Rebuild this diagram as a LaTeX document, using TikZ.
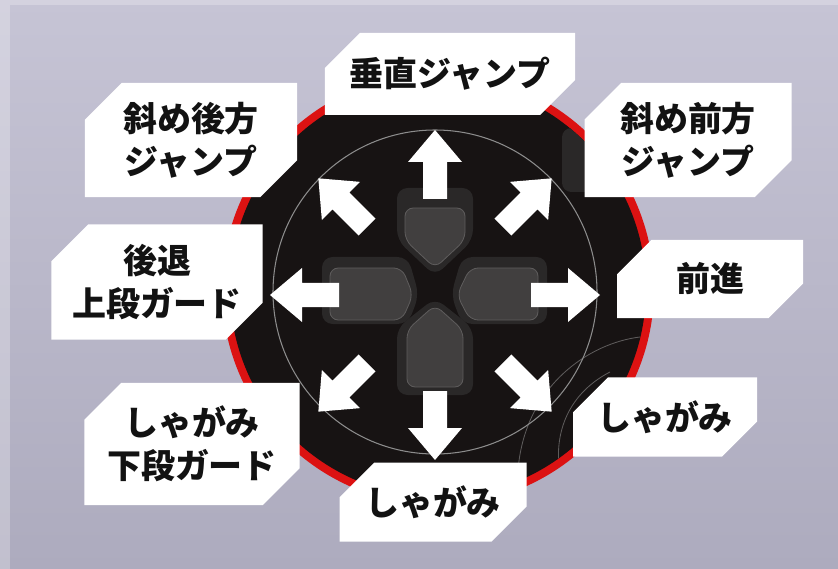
\documentclass[tikz,border=0pt]{standalone}
\usepackage{fontspec}
\newfontfamily\jpfont{Noto Sans CJK JP Black}
\usetikzlibrary{shapes.misc}

\definecolor{bgtop}{HTML}{C6C4D5}
\definecolor{bgmid}{HTML}{E6E6EC}
\definecolor{bgbot}{HTML}{ADABBE}
\definecolor{rimred}{HTML}{DC1212}
\definecolor{padblack}{HTML}{171313}
\definecolor{padouter}{HTML}{2A2828}
\definecolor{padinner}{HTML}{413F3F}
\definecolor{padedge}{HTML}{5E5C5C}

\tikzset{
  label box/.style={chamfered rectangle, chamfered rectangle corners={north west,south east},
    chamfered rectangle xsep=0.55cm, chamfered rectangle ysep=0.55cm,
    fill=white, inner sep=0pt, align=center, text=black!93,
    font=\jpfont\fontsize{29}{37}\selectfont},
  move arrow/.pic={
    \fill[white] (96,-12) -- (133,-12) -- (133,-27) -- (165,0) -- (133,27) -- (133,12) -- (96,12) -- cycle;
  }
}

\begin{document}
\begin{tikzpicture}[x=0.03cm, y=-0.03cm]
		%%%%% START %%%%%
		\useasboundingbox (0,0) rectangle (838,569);
		
		% backdrop
		\shade[top color=bgtop, middle color=bgmid, bottom color=bgbot] (0,0) rectangle (838,569);
		\fill[white, opacity=0.25] (0,0) rectangle (838,5);
		\fill[white, opacity=0.25] (0,5) rectangle (10,569);
		
		% pad body with red rim
		\fill[rimred] (438,289) circle (216);
		\fill[padblack] (438,289) circle (208);
		
		\begin{scope}
			\clip (438,289) circle (208);
			\fill[padouter, rounded corners=8] (562,128) rectangle (600,192);
			\draw[padedge, line width=0.7pt] (640,337) .. controls (590,343) and (525,385) .. (518,470);
			\draw[padedge, line width=0.7pt] (610,372) .. controls (575,390) and (552,425) .. (560,475);
		\end{scope}
		
		\draw[black!45, line width=0.9pt] (435,292) circle (162);
		
		% cross keys
		\fill[padouter, rounded corners=9] (435,276) -- (397,240) -- (397,188) -- (473,188) -- (473,240) -- cycle;
		\fill[padouter, rounded corners=9] (435,298) -- (397,328) -- (397,395) -- (473,395) -- (473,328) -- cycle;
		\fill[padouter, rounded corners=9] (419,295) -- (408,257) -- (322,257) -- (322,324) -- (408,324) -- cycle;
		\fill[padouter, rounded corners=9] (451,295) -- (462,257) -- (547,257) -- (547,324) -- (462,324) -- cycle;
		
		\filldraw[fill=padinner, draw=padedge, line width=0.7pt, rounded corners=7] (435,268) -- (405,240) -- (405,208) -- (465,208) -- (465,240) -- cycle;
		\filldraw[fill=padinner, draw=padedge, line width=0.7pt, rounded corners=7] (435,305) -- (407,330) -- (407,387) -- (463,387) -- (463,330) -- cycle;
		\filldraw[fill=padinner, draw=padedge, line width=0.7pt, rounded corners=7] (413,295) -- (402,268) -- (330,268) -- (330,320) -- (402,320) -- cycle;
		\filldraw[fill=padinner, draw=padedge, line width=0.7pt, rounded corners=7] (457,295) -- (470,268) -- (538,268) -- (538,320) -- (470,320) -- cycle;
		
		% eight directions
		\foreach \a in {0,45,...,315}
			\pic[rotate=\a] at (435,295) {move arrow};
		
		% labels
		\node[label box, minimum width=7.5cm, minimum height=2.46cm] (vertjump) at (450,74) {垂直ジャンプ};
		\node[label box, minimum width=6.36cm, minimum height=3.42cm] (diagback) at (191,140) {斜め後方\\ジャンプ};
		\node[label box, minimum width=6.21cm, minimum height=3.42cm] (diagfront) at (688,140) {斜め前方\\ジャンプ};
		\node[label box, minimum width=6.33cm, minimum height=3.45cm] (retreat) at (157,282) {後退\\上段ガード};
		\node[label box, minimum width=5.58cm, minimum height=2.34cm] (advance) at (710,279) {前進};
		\node[label box, minimum width=6.45cm, minimum height=3.66cm] (lowguard) at (192,444) {しゃがみ\\下段ガード};
		\node[label box, minimum width=5.52cm, minimum height=2.37cm] (crouchfront) at (665,417) {しゃがみ};
		\node[label box, minimum width=5.61cm, minimum height=2.37cm] (crouchdown) at (433,502) {しゃがみ};
		
		%%%%% END %%%%%
	\end{tikzpicture}
\end{document}
